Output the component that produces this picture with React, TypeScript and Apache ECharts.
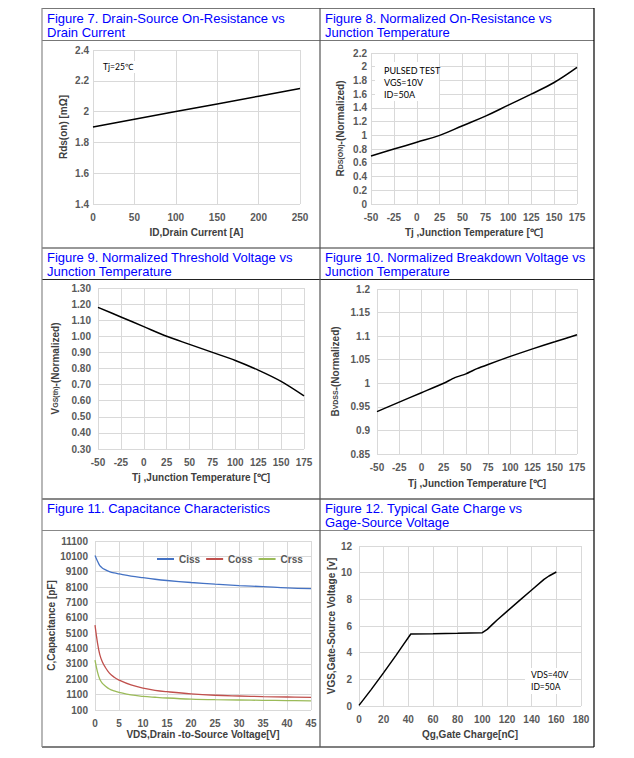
import React, { useEffect, useRef } from "react";
import * as echarts from "echarts";

// ---------- data ----------
const fig7Current = [0, 50, 100, 150, 200, 250];
const fig7Rds = [1.9, 1.95, 2.0, 2.05, 2.1, 2.15];

const tempAxis = [-50, -25, 0, 25, 50, 75, 100, 125, 150, 175];
const fig8Rds = [0.7, 0.8, 0.9, 1.0, 1.14, 1.28, 1.44, 1.6, 1.77, 1.99];
const fig9Vth = [1.18, 1.12, 1.06, 1.0, 0.95, 0.9, 0.85, 0.79, 0.72, 0.63];

const fig10Temp = [-50, -25, 0, 25, 37.5, 50, 62.5, 75, 100, 125, 150, 175];
const fig10Bv = [0.94, 0.96, 0.98, 1.0, 1.012, 1.02, 1.031, 1.04, 1.057, 1.073, 1.088, 1.103];

const fig11Vds = [0, 0.5, 1, 1.5, 2, 3, 4, 5, 7.5, 10, 12.5, 15, 20, 25, 30, 35, 40, 45];
const fig11Ciss = [10150, 9800, 9500, 9350, 9250, 9110, 9020, 8960, 8820, 8710, 8610, 8530, 8400, 8290, 8200, 8130, 8050, 8000];
const fig11Coss = [5620, 4500, 3700, 3250, 2950, 2500, 2230, 2050, 1730, 1520, 1380, 1290, 1150, 1060, 1010, 970, 945, 920];
const fig11Crss = [3350, 2600, 2100, 1850, 1700, 1470, 1340, 1250, 1080, 990, 930, 880, 810, 770, 750, 730, 715, 700];

const fig12Qg = [0, 10, 20, 30, 36, 42, 60, 80, 100, 104, 108, 112, 120, 130, 140, 150, 154, 160];
const fig12Vgs = [0.05, 1.25, 2.5, 3.8, 4.6, 5.4, 5.42, 5.45, 5.5, 5.75, 6.1, 6.45, 7.1, 7.9, 8.7, 9.5, 9.75, 10.05];

const titles = [
  ["Figure 7. Drain-Source On-Resistance vs", "Drain Current"],
  ["Figure 8. Normalized On-Resistance vs", "Junction Temperature"],
  ["Figure 9. Normalized Threshold Voltage vs", "Junction Temperature"],
  ["Figure 10. Normalized Breakdown Voltage vs", "Junction Temperature"],
  ["Figure 11. Capacitance Characteristics"],
  ["Figure 12. Typical Gate Charge vs", "Gage-Source Voltage"],
];

// ---------- styles ----------
const FONT = "'Liberation Sans', Arial, sans-serif";
const NOTE_FONT = "Lato, 'Open Sans', sans-serif";
const GRID_COLOR = "#d9d9d9";
const LABEL_COLOR = "#595959";
const NAME_COLOR = "#404040";

const zip = (xs: number[], ys: number[]) => xs.map((x, i) => [x, ys[i]]);

function axis(
  gridIndex: number,
  min: number,
  max: number,
  interval: number,
  name: string,
  nameGap: number,
  labelMargin: number,
  extra: any = {}
) {
  return {
    type: "value",
    gridIndex,
    min,
    max,
    interval,
    name,
    nameLocation: "middle",
    nameGap,
    nameTextStyle: {
      fontFamily: FONT,
      fontWeight: "bold",
      fontSize: 10,
      color: NAME_COLOR,
      ...(extra.rich ? { rich: extra.rich } : {}),
    },
    axisLine: { show: false },
    axisTick: { show: false },
    axisLabel: {
      fontFamily: FONT,
      fontWeight: "bold",
      fontSize: 10,
      color: LABEL_COLOR,
      margin: labelMargin,
      formatter: extra.formatter ? extra.formatter : (v: number) => String(Math.round(v * 1000) / 1000),
    },
    splitLine: { show: true, lineStyle: { color: GRID_COLOR, width: 1 } },
  };
}

const richName = {
  big: { fontFamily: FONT, fontWeight: "bold", fontSize: 10, color: NAME_COLOR },
  small: { fontFamily: FONT, fontWeight: "bold", fontSize: 7, color: NAME_COLOR },
};

function lineSeries(name: string, xi: number, data: number[][], color: string, smooth: any = false, width = 1.5) {
  return {
    type: "line",
    name,
    xAxisIndex: xi,
    yAxisIndex: xi,
    data,
    showSymbol: false,
    symbol: "none",
    smooth,
    lineStyle: { color, width },
    itemStyle: { color },
    z: 3,
  };
}

function hLine(x1: number, x2: number, y: number, stroke: string) {
  return { type: "line", silent: true, shape: { x1, y1: y, x2, y2: y }, style: { stroke, lineWidth: 1.2 } };
}
function vLine(x: number, y1: number, y2: number, stroke: string) {
  return { type: "line", silent: true, shape: { x1: x, y1, x2: x, y2 }, style: { stroke, lineWidth: 1.2 } };
}
function box(x: number, y: number, width: number, height: number) {
  return { type: "rect", silent: true, z: 1, shape: { x, y, width, height }, style: { fill: "#ffffff" } };
}
function text(x: number, y: number, t: string, fontSize: number, fill: string, fontFamily: string) {
  return {
    type: "text",
    silent: true,
    z: 2,
    x,
    y,
    style: { text: t, fontSize, fill, fontFamily, align: "left", verticalAlign: "middle" },
  };
}

export default function App() {
  const ref = useRef<HTMLDivElement>(null);

  useEffect(() => {
    if (!ref.current) return;
    const chart = echarts.init(ref.current, undefined, { renderer: "svg" });

    const titlePos = [
      [47, 18],
      [325, 18],
      [47, 257],
      [325, 257],
      [47, 508],
      [325, 508],
    ];
    const titleGraphics: any[] = [];
    titles.forEach((lines, i) => {
      lines.forEach((l, j) => {
        titleGraphics.push(text(titlePos[i][0], titlePos[i][1] + j * 14, l, 13, "#0000ff", FONT));
      });
    });

    const option: any = {
      animation: false,
      backgroundColor: "#ffffff",
      textStyle: { fontFamily: FONT },
      grid: [
        { left: 93, top: 50, width: 207, height: 154 },
        { left: 371, top: 53, width: 206, height: 151 },
        { left: 98, top: 288, width: 206, height: 161 },
        { left: 377, top: 289, width: 200, height: 165 },
        { left: 95, top: 541, width: 216, height: 169 },
        { left: 359, top: 546, width: 222, height: 160 },
      ],
      xAxis: [
        axis(0, 0, 250, 50, "ID,Drain Current [A]", 23, 8),
        axis(1, -50, 175, 25, "Tj ,Junction Temperature [℃]", 23, 8),
        axis(2, -50, 175, 25, "Tj ,Junction Temperature [℃]", 23, 8),
        axis(3, -50, 175, 25, "Tj ,Junction Temperature [℃]", 24, 8),
        axis(4, 0, 45, 5, "VDS,Drain -to-Source Voltage[V]", 19, 8),
        axis(5, 0, 180, 20, "Qg,Gate Charge[nC]", 23, 8),
      ],
      yAxis: [
        axis(0, 1.4, 2.4, 0.2, "Rds(on) [mΩ]", 25, 4),
        axis(1, 0, 2.2, 0.2, "{big|R}{small|DS(ON)}{big|-(Normalized)}", 26, 4, { rich: richName }),
        axis(2, 0.3, 1.3, 0.1, "{big|V}{small|GS(th)}{big|-(Normalized)}", 38, 7, {
          rich: richName,
          formatter: (v: number) => v.toFixed(2),
        }),
        axis(3, 0.85, 1.2, 0.05, "{big|B}{small|VDSS}{big|-(Normalized)}", 37, 7, { rich: richName }),
        axis(4, 100, 11100, 1000, "C,Capacitance [pF]", 36, 7, { formatter: (v: number) => String(Math.round(v)) }),
        axis(5, 0, 12, 2, "VGS,Gate-Source Voltage [v]", 19, 7),
      ],
      legend: {
        data: ["Ciss", "Coss", "Crss"],
        left: 157,
        top: 554,
        icon: "rect",
        itemWidth: 17,
        itemHeight: 2,
        itemGap: 6,
        padding: 0,
        textStyle: { fontFamily: FONT, fontWeight: "bold", fontSize: 10, color: LABEL_COLOR },
      },
      series: [
        lineSeries("Rds", 0, zip(fig7Current, fig7Rds), "#000000"),
        lineSeries("RdsNorm", 1, zip(tempAxis, fig8Rds), "#000000", 0.4),
        lineSeries("Vth", 2, zip(tempAxis, fig9Vth), "#000000", 0.3),
        lineSeries("Bv", 3, zip(fig10Temp, fig10Bv), "#000000", 0.2),
        lineSeries("Ciss", 4, zip(fig11Vds, fig11Ciss), "#4472C4", 0.4, 1.3),
        lineSeries("Coss", 4, zip(fig11Vds, fig11Coss), "#C0504D", 0.4, 1.3),
        lineSeries("Crss", 4, zip(fig11Vds, fig11Crss), "#9BBB59", 0.4, 1.3),
        lineSeries("Qg", 5, zip(fig12Qg, fig12Vgs), "#000000", false),
      ],
      graphic: [
        hLine(42, 594, 8.5, "#777777"),
        hLine(42, 594, 40.5, "#777777"),
        hLine(42, 594, 248, "#333333"),
        hLine(42, 594, 279.5, "#222222"),
        hLine(42, 594, 499, "#111111"),
        hLine(42, 594, 530.5, "#888888"),
        hLine(42, 594, 747, "#000000"),
        vLine(42, 8, 747, "#888888"),
        vLine(320, 8, 747, "#555555"),
        vLine(594, 8, 747, "#000000"),
        ...titleGraphics,
        box(100, 61, 40, 12),
        text(103, 67, "Tj=25℃", 8.5, "#000000", NOTE_FONT),
        box(375, 62, 64, 39),
        text(384, 70, "PULSED TEST", 9, "#000000", NOTE_FONT),
        text(384, 82, "VGS=10V", 9, "#000000", NOTE_FONT),
        text(384, 94, "ID=50A", 9, "#000000", NOTE_FONT),
        box(525, 668, 44, 26),
        text(531, 675, "VDS=40V", 8.5, "#000000", NOTE_FONT),
        text(531, 687, "ID=50A", 8.5, "#000000", NOTE_FONT),
      ],
    };

    chart.setOption(option);
    return () => chart.dispose();
  }, []);

  return (
    <div
      ref={ref}
      style={{ position: "absolute", left: 0, top: 0, width: 634, height: 758, background: "#fff" }}
    />
  );
}
